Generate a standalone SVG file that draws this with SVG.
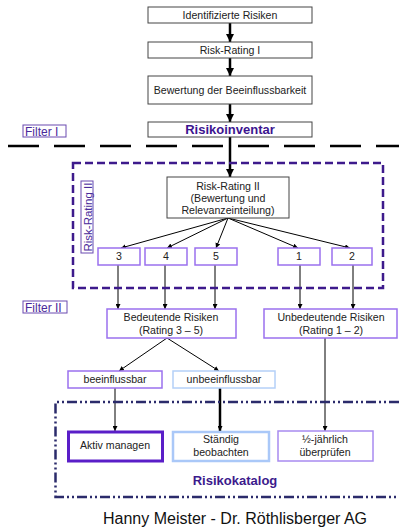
<svg xmlns="http://www.w3.org/2000/svg" width="399" height="528" viewBox="0 0 399 528">
<defs>
<marker id="ah" viewBox="0 0 10 10" refX="10" refY="5" markerWidth="5" markerHeight="5" orient="auto" markerUnits="userSpaceOnUse"><path d="M0,0 L10,5 L0,10 z" fill="#000"/></marker>
<marker id="ahb" viewBox="0 0 10 10" refX="10" refY="5" markerWidth="8" markerHeight="8" orient="auto" markerUnits="userSpaceOnUse"><path d="M0,0 L10,5 L0,10 z" fill="#000"/></marker>
<style>
text{font-family:"Liberation Sans",Arial,sans-serif;fill:#222;}
.t{font-size:10.6px;text-anchor:middle;}
.box{fill:#fff;stroke:#444;stroke-width:1;}
.pbox{fill:#fff;stroke:#9a70ee;stroke-width:1.5;}
.lbl{fill:#fff;stroke:#6a4ab0;stroke-width:1;}
.lt{font-size:12px;fill:#4a2a9a;}
.thin{stroke:#000;stroke-width:1;fill:none;}
.thick{stroke:#000;stroke-width:2.5;fill:none;}
</style>
</defs>
<rect width="399" height="528" fill="#fff"/>

<g id="connectors">
<line class="thick" x1="230" y1="23" x2="230" y2="42" marker-end="url(#ahb)"/>
<line class="thick" x1="230" y1="58" x2="230" y2="76" marker-end="url(#ahb)"/>
<line class="thick" x1="230" y1="104" x2="230" y2="122" marker-end="url(#ahb)"/>
<line class="thick" x1="230" y1="137" x2="230" y2="177" marker-end="url(#ahb)"/>
<line class="thin" x1="228" y1="218" x2="121" y2="248" marker-end="url(#ah)"/>
<line class="thin" x1="228" y1="218" x2="167" y2="248" marker-end="url(#ah)"/>
<line class="thin" x1="228" y1="218" x2="216" y2="248" marker-end="url(#ah)"/>
<line class="thin" x1="228" y1="218" x2="298" y2="248" marker-end="url(#ah)"/>
<line class="thin" x1="228" y1="218" x2="350" y2="248" marker-end="url(#ah)"/>
<line class="thin" x1="118" y1="265" x2="118" y2="309" marker-end="url(#ah)"/>
<line class="thin" x1="165" y1="265" x2="165" y2="309" marker-end="url(#ah)"/>
<line class="thin" x1="215" y1="265" x2="215" y2="309" marker-end="url(#ah)"/>
<line class="thin" x1="300" y1="265" x2="300" y2="309" marker-end="url(#ah)"/>
<line class="thin" x1="353" y1="265" x2="353" y2="309" marker-end="url(#ah)"/>
<line class="thin" x1="167" y1="338" x2="119" y2="371" marker-end="url(#ah)"/>
<line class="thin" x1="167" y1="338" x2="219" y2="371" marker-end="url(#ah)"/>
<line class="thin" x1="115" y1="388" x2="115" y2="431" marker-end="url(#ah)"/>
<line class="thick" x1="220" y1="388" x2="220" y2="431" marker-end="url(#ah)"/>
<line class="thin" x1="325" y1="338" x2="325" y2="431" marker-end="url(#ah)"/>
</g>

<g id="filter1-line">
<line x1="8" y1="146" x2="399" y2="146" stroke="#000" stroke-width="2.5" stroke-dasharray="31,15"/>
</g>

<g id="rr2-frame">
<rect x="73" y="163" width="310" height="125" fill="none" stroke="#3d1a8c" stroke-width="2.5" stroke-dasharray="8,4"/>
</g>

<g id="katalog-frame">
<path d="M399,402 H55.5 V497 H399" fill="none" stroke="#2b2b6b" stroke-width="2.5" stroke-dasharray="10,3,2,3,2,3"/>
</g>

<g id="n1"><rect class="box" x="148" y="7" width="164" height="16"/><text class="t" x="230" y="19">Identifizierte Risiken</text></g>
<g id="n2"><rect class="box" x="148" y="42" width="164" height="16"/><text class="t" x="230" y="54">Risk-Rating I</text></g>
<g id="n3"><rect class="box" x="148" y="76" width="164" height="28"/><text class="t" x="230" y="94">Bewertung der Beeinflussbarkeit</text></g>
<g id="n4"><rect class="box" x="148" y="122" width="164" height="15"/><text x="230" y="134" style="font-size:13px;font-weight:bold;text-anchor:middle;fill:#3c1490">Risikoinventar</text></g>

<g id="filter1"><rect class="lbl" x="23" y="125" width="43" height="12"/><text class="lt" x="25" y="135.5">Filter  I</text></g>
<g id="filter2"><rect class="lbl" x="23" y="301" width="44" height="12"/><text class="lt" x="25" y="311.5">Filter II</text></g>
<g id="rr2-label"><rect class="lbl" x="81" y="181" width="12" height="72"/><text class="lt" transform="translate(91.5,217) rotate(-90)" text-anchor="middle" style="font-size:11.5px">Risk-Rating II</text></g>

<g id="n5"><rect class="box" x="167" y="177" width="122" height="41"/>
<text class="t" x="228" y="190">Risk-Rating II</text>
<text class="t" x="228" y="202">(Bewertung und</text>
<text class="t" x="228" y="214">Relevanzeinteilung)</text></g>

<g id="r3"><rect class="pbox" x="98" y="248" width="42" height="17"/><text class="t" x="119" y="260">3</text></g>
<g id="r4"><rect class="pbox" x="145" y="248" width="42" height="17"/><text class="t" x="166" y="260">4</text></g>
<g id="r5"><rect class="pbox" x="195" y="248" width="42" height="17"/><text class="t" x="216" y="260">5</text></g>
<g id="r1"><rect class="pbox" x="278" y="248" width="42" height="17"/><text class="t" x="299" y="260">1</text></g>
<g id="r2"><rect class="pbox" x="332" y="248" width="40" height="17"/><text class="t" x="352" y="260">2</text></g>

<g id="bedeutend"><rect class="pbox" x="107" y="309" width="129" height="29"/>
<text class="t" x="171" y="321">Bedeutende Risiken</text>
<text class="t" x="171" y="334">(Rating 3 – 5)</text></g>
<g id="unbedeutend"><rect class="pbox" x="264" y="309" width="133" height="29"/>
<text class="t" x="331" y="321">Unbedeutende Risiken</text>
<text class="t" x="331" y="334">(Rating 1 – 2)</text></g>

<g id="beein"><rect class="pbox" x="68" y="371" width="94" height="17"/><text class="t" x="115" y="383">beeinflussbar</text></g>
<g id="unbeein"><rect x="173" y="371" width="102" height="17" fill="#fff" stroke="#b4d0f8" stroke-width="1.5"/><text class="t" x="224" y="383">unbeeinflussbar</text></g>

<g id="aktiv"><rect x="68.5" y="432" width="94" height="29" fill="#fff" stroke="#5a1ec8" stroke-width="3"/><text class="t" x="115" y="449">Aktiv managen</text></g>
<g id="staendig"><rect x="173" y="432" width="96" height="29" fill="#fff" stroke="#aac8f8" stroke-width="2.5"/>
<text class="t" x="221" y="443">Ständig</text><text class="t" x="221" y="456">beobachten</text></g>
<g id="halb"><rect x="278" y="431" width="95" height="30" fill="#fff" stroke="#a88af0" stroke-width="1.5"/>
<text class="t" x="325" y="443">½-jährlich</text><text class="t" x="325" y="456">überprüfen</text></g>

<g id="katalog-label"><text x="235" y="485" style="font-size:13px;font-weight:bold;text-anchor:middle;fill:#3c1a8c">Risikokatalog</text></g>

<g id="footer"><text x="235" y="524" style="font-size:16px;text-anchor:middle;fill:#111">Hanny Meister - Dr. Röthlisberger AG</text></g>
</svg>
